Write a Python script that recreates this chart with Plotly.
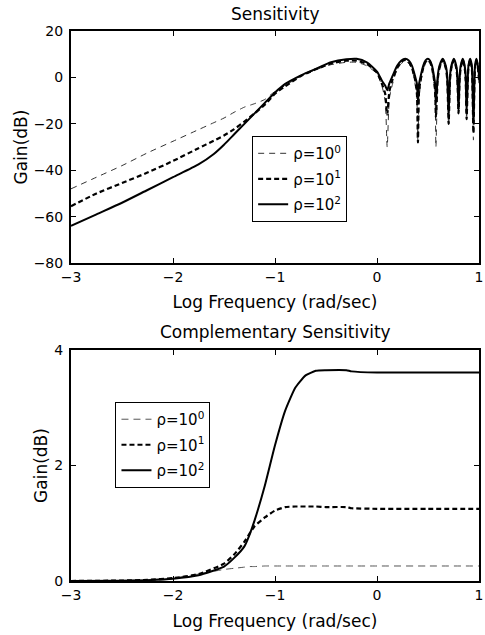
import plotly.graph_objects as go

# ---------------- Sensitivity (top) ----------------
s_x_low = [-3, -2.75, -2.5, -2.25, -2, -1.75, -1.6, -1.5, -1.4, -1.3, -1.2, -1.1, -1.0,
           -0.9, -0.75, -0.6, -0.45, -0.3, -0.2, -0.1, 0.0, 0.05, 0.08, 0.1]
s_x_high = [0.1216, 0.1515, 0.1973, 0.2387, 0.2765, 0.3112, 0.3434, 0.3734, 0.3904, 0.4014,
            0.4121, 0.4277, 0.4526, 0.4760, 0.4983, 0.5195, 0.5397, 0.5590, 0.5702, 0.5775,
            0.5952, 0.6123, 0.6444, 0.6744, 0.6887, 0.7024,
            0.7158, 0.7288, 0.7536, 0.7771, 0.7883, 0.7993,
            0.8101, 0.8206, 0.8407, 0.8600, 0.8694, 0.8785,
            0.8963, 0.9133, 0.9297, 0.9455,
            0.9607, 0.9754, 0.9897, 1.0]

s_rho0_low = [-48, -43, -38, -32.5, -27.5, -22.5, -19.5, -17.5, -15, -12.8, -11.3, -9.5, -6,
              -3.5, 0.5, 3.3, 5.5, 6.5, 6.5, 5.0, 1.5, -4, -10, -30]
s_rho1_low = [-55.5, -50, -45.5, -41, -36, -30.5, -27.3, -25, -22.3, -19, -15.5, -11.8, -7,
              -3.8, 0.5, 3.5, 6, 7.2, 7.2, 5.8, 2, -3, -7, -16]
s_rho2_low = [-64, -59, -54, -48.5, -43, -37.5, -33, -29, -24.5, -20, -15.5, -11, -6.5,
              -2.8, 0.8, 3.7, 6.5, 7.8, 8, 6.5, 2.5, -1.5, -3.5, -5.5]

s_rho0_high = [-9, -3, 3.5, 6, 7, 6, 3.5, -3, -9, -28,
               -9, -3, 3.5, 6, 7, 6, 3.5, -3, -9, -30,
               -3, 3.5, 7, 3.5, -3, -21,
               -3, 3.5, 7, 3.5, -3, -16,
               -3, 3.5, 7, 3.5, -3, -18,
               3.5, 7, 3.5, -27,
               3.5, 7, 3.5, -3]
s_rho1_high = [-6, -1, 4, 6.7, 7.5, 6.7, 4, -1, -6, -28,
               -6, -1, 4, 6.7, 7.5, 6.7, 4, -1, -6, -17,
               -1, 4, 7.5, 4, -1, -20,
               -1, 4, 7.5, 4, -1, -15.5,
               -1, 4, 7.5, 4, -1, -18,
               4, 7.5, 4, -24,
               4, 7.5, 4, -1]
s_rho2_high = [-2.5, 0.5, 5, 7.3, 8, 7.3, 5, 0.5, -2.5, -10,
               -3, 0.5, 5, 7.3, 8, 7.3, 5, 0.5, -3, -11,
               0.5, 5, 8, 5, 0.5, -16,
               0.5, 5, 8, 5, 0.5, -14,
               0.5, 5, 8, 5, 0.5, -15,
               5, 8, 5, -20,
               5, 8, 5, 1]

# ---------------- Complementary Sensitivity (bottom) ----------------
t_x = [-3, -2.5, -2.25, -2, -1.75, -1.5, -1.4, -1.3, -1.25, -1.2, -1.1, -1.0, -0.9,
       -0.8, -0.7, -0.6, -0.5, -0.3, -0.25, 0, 0.5, 1]
t_rho0 = [0, 0.01, 0.02, 0.05, 0.12, 0.2, 0.22, 0.24, 0.25, 0.25, 0.26, 0.26, 0.26,
          0.26, 0.26, 0.26, 0.26, 0.26, 0.26, 0.26, 0.26, 0.26]
t_rho1 = [0, 0.008, 0.02, 0.05, 0.12, 0.3, 0.46, 0.68, 0.82, 0.95, 1.1, 1.22, 1.28,
          1.29, 1.29, 1.29, 1.28, 1.28, 1.26, 1.25, 1.25, 1.25]
t_rho2 = [0, 0.005, 0.015, 0.04, 0.1, 0.25, 0.4, 0.6, 0.8, 1.05, 1.65, 2.35, 2.95,
          3.35, 3.56, 3.64, 3.65, 3.65, 3.63, 3.61, 3.61, 3.61]

legend_names = ["ρ=10<sup>0</sup>", "ρ=10<sup>1</sup>", "ρ=10<sup>2</sup>"]
x_ticks = [-3, -2, -1, 0, 1]
top_yticks = [-80, -60, -40, -20, 0, 20]
bot_yticks = [0, 2, 4]

FONT = "DejaVu Sans"
styles = [dict(color="#333333", width=1, dash="6px,5px"),
          dict(color="black", width=2.2, dash="5px,3px"),
          dict(color="black", width=2)]

fig = go.Figure()
top_series = [s_rho0_low + s_rho0_high, s_rho1_low + s_rho1_high, s_rho2_low + s_rho2_high]
for i, (name, ys, st) in enumerate(zip(legend_names, top_series, styles)):
    fig.add_trace(go.Scatter(x=s_x_low + s_x_high, y=ys, mode="lines", name=name,
                             legendgroup="top%d" % i,
                             line=dict(shape="spline", smoothing=0.6, **st),
                             xaxis="x", yaxis="y", legend="legend"))
bot_series = [t_rho0, t_rho1, t_rho2]
bot_styles = [dict(color="#555555", width=1, dash="7px,5px"), styles[1], styles[2]]
for i, (name, ys, st) in enumerate(zip(legend_names, bot_series, bot_styles)):
    fig.add_trace(go.Scatter(x=t_x, y=ys, mode="lines", name=name,
                             legendgroup="bot%d" % i,
                             line=dict(shape="spline", smoothing=0.5, **st),
                             xaxis="x2", yaxis="y2", legend="legend2"))

axis_common = dict(showline=True, linecolor="black", linewidth=2, mirror="ticks",
                   ticks="inside", ticklen=5, tickwidth=1, tickcolor="black",
                   showgrid=False, zeroline=False, ticklabeloverflow="allow",
                   tickfont=dict(family=FONT, size=14, color="black"))

# plot area: page x 71..483, page y 31..581 (height extends past the window)
fig.update_layout(
    width=485, height=660,
    margin=dict(l=71, r=2, t=31, b=79),
    paper_bgcolor="white", plot_bgcolor="white",
    font=dict(family=FONT, size=14, color="black"),
    xaxis=dict(domain=[0, 1], range=[-3, 1], tickvals=x_ticks, anchor="y",
               title=dict(text="Log Frequency (rad/sec)", font=dict(size=17), standoff=12),
               **axis_common),
    yaxis=dict(domain=[0.578, 1], range=[-80, 20], tickvals=top_yticks, anchor="x",
               ticklabelstandoff=3,
               title=dict(text="Gain(dB)", font=dict(size=17), standoff=2),
               **axis_common),
    xaxis2=dict(domain=[0, 1], range=[-3, 1], tickvals=x_ticks, anchor="y2",
                title=dict(text="Log Frequency (rad/sec)", font=dict(size=17), standoff=13),
                **axis_common),
    yaxis2=dict(domain=[0, 0.42], range=[0, 4], tickvals=bot_yticks, anchor="x2",
                ticklabelstandoff=3,
                title=dict(text="Gain(dB)", font=dict(size=17), standoff=2),
                **axis_common),
    legend=dict(x=0.444, y=0.809, xanchor="left", yanchor="top",
                bordercolor="black", borderwidth=1, bgcolor="white",
                font=dict(family=FONT, size=15), itemwidth=30, tracegroupgap=3),
    legend2=dict(x=0.109, y=0.3255, xanchor="left", yanchor="top",
                 bordercolor="black", borderwidth=1, bgcolor="white",
                 font=dict(family=FONT, size=15), itemwidth=30, tracegroupgap=3),
    annotations=[
        dict(text="Sensitivity", xref="paper", yref="paper", x=0.5, y=1.031,
             xanchor="center", yanchor="middle", showarrow=False,
             font=dict(family=FONT, size=17)),
        dict(text="Complementary Sensitivity", xref="paper", yref="paper", x=0.5, y=0.4527,
             xanchor="center", yanchor="middle", showarrow=False,
             font=dict(family=FONT, size=17)),
    ],
)

fig.write_html(
    "out.html",
    config={"displayModeBar": False},
    post_script="document.body.style.margin='0';document.body.style.overflow='hidden';",
)
